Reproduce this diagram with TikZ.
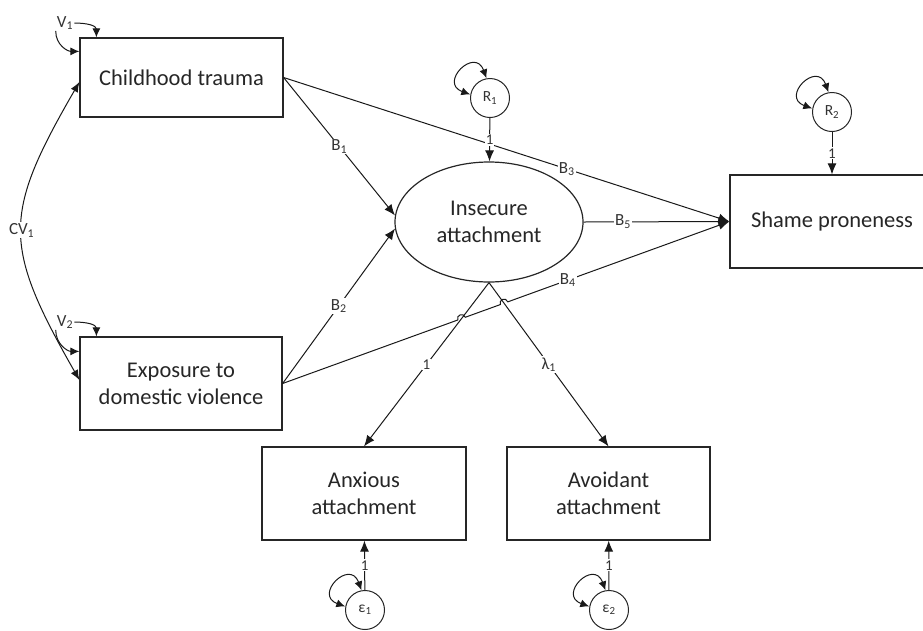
\documentclass[tikz,border=0pt]{standalone}
\usepackage{fontspec}
\setmainfont{Carlito}
\usetikzlibrary{arrows.meta,shapes.geometric,calc,intersections}

\tikzset{
  box/.style={draw=black!85, line width=1.2pt, align=center, text=black!85,
    font=\fontsize{22.5}{27}\selectfont, inner sep=0pt},
  latent/.style={ellipse, draw=black!85, line width=1.2pt, align=center, text=black!85,
    font=\fontsize{22.5}{27}\selectfont, minimum width=188pt, minimum height=120pt},
  resid/.style={circle, draw=black!85, line width=1pt, minimum size=39pt, inner sep=0pt,
    text=black!80, font=\fontsize{15.5}{15.5}\selectfont},
  effect/.style={draw=black!90, line width=1pt, -{Latex[length=11pt,width=9pt]}},
  covar/.style={draw=black!90, line width=1pt, {Latex[length=10pt,width=8pt]}-{Latex[length=10pt,width=8pt]}},
  selfvar/.style={draw=black!90, line width=1pt, {Latex[length=9pt,width=8pt]}-{Latex[length=9pt,width=8pt]}},
  varhalf/.style={draw=black!90, line width=1pt, -{Latex[length=9pt,width=8pt]}},
  coef/.style={fill=white, inner sep=1pt, text=black!80, font=\fontsize{17}{17}\selectfont},
  one/.style={coef, font=\fontsize{15}{15}\selectfont},
  varlab/.style={inner sep=1pt, text=black!80, font=\fontsize{17}{17}\selectfont}
}

\begin{document}
\begin{tikzpicture}[x=1pt,y=1pt]
    \clip (0,0) rectangle (923,-630);

    % Observed variables
    \node[box, minimum width=203pt, minimum height=79pt] (ct) at (181.5,-77.5) {Childhood trauma};
    \node[box, minimum width=202pt, minimum height=93pt] (ex) at (181,-383.5) {Exposure to\\domestic violence};
    \node[box, minimum width=204pt, minimum height=93pt] (sp) at (832,-221.5) {Shame proneness};
    \node[box, minimum width=204pt, minimum height=93pt] (ax) at (364,-493.5) {Anxious\\attachment};
    \node[box, minimum width=203pt, minimum height=93pt] (av) at (608.5,-493.5) {Avoidant\\attachment};

    % Latent variable
    \node[latent] (ins) at (489,-222) {Insecure\\attachment};

    % Residuals
    \node[resid] (r1) at (490,-98) {R\textsubscript{1}};
    \node[resid] (r2) at (832,-112) {R\textsubscript{2}};
    \node[resid] (e1) at (365,-610) {ε\textsubscript{1}};
    \node[resid] (e2) at (609,-610) {ε\textsubscript{2}};

    % Variances
    \node[varlab] (v1) at (65,-23) {V\textsubscript{1}};
    \node[varlab] (v2) at (65,-322) {V\textsubscript{2}};
    \draw[varhalf] (v1.south west) .. controls +(0,-14) and +(-12,0) .. ($(ct.north west)+(0,-14)$);
    \draw[varhalf] (v1.east) .. controls +(12,0) and +(0,12) .. ($(ct.north west)+(17,0)$);
    \draw[varhalf] (v2.south west) .. controls +(0,-14) and +(-12,0) .. ($(ex.north west)+(0,-15)$);
    \draw[varhalf] (v2.east) .. controls +(12,0) and +(0,12) .. ($(ex.north west)+(17,0)$);
    \draw[selfvar] (r1.100) .. controls +(110:34) and +(160:34) .. (r1.170);
    \draw[selfvar] (r2.100) .. controls +(110:34) and +(160:34) .. (r2.170);
    \draw[selfvar] (e1.100) .. controls +(110:34) and +(160:34) .. (e1.170);
    \draw[selfvar] (e2.100) .. controls +(110:34) and +(160:34) .. (e2.170);

    % Covariance
    \draw[covar] ($(ex.west)+(0,3.5)$) .. controls +(-77,135) and +(-77,-133) ..
        node[coef]{CV\textsubscript{1}} ($(ct.west)+(0,-4.5)$);

    % Structural paths
    \draw[effect] (ct.east) -- node[coef]{B\textsubscript{1}} (ins.176);
    \draw[effect] (ex.east) -- node[coef]{B\textsubscript{2}} (ins.184);
    \draw[effect] (ct.east) -- node[coef, pos=0.635]{B\textsubscript{3}} (sp.west);
    \draw[effect] (ins.east) -- node[coef, pos=0.27]{B\textsubscript{5}} (sp.west);

    % Measurement paths
    \draw[effect] (ins.south) -- node[one]{1} (ax.north);
    \draw[effect] (ins.south) -- node[coef]{λ\textsubscript{1}} (av.north);

    % B4 hops over the two loadings
    \path[name path=bfour] (ex.east) -- (sp.west);
    \path[name path=loadax] (ins.south) -- (ax.north);
    \path[name path=loadav] (ins.south) -- (av.north);
    \path[name intersections={of=bfour and loadax, by=hopa}];
    \path[name intersections={of=bfour and loadav, by=hopb}];
    \draw[effect] (ex.east) -- ($(hopa)!4pt!(ex.east)$)
        to[bend left=90, looseness=1.7] ($(hopa)!4pt!(sp.west)$) -- ($(hopb)!4pt!(ex.east)$)
        to[bend left=90, looseness=1.7] ($(hopb)!4pt!(sp.west)$)
        -- node[coef, pos=0.27]{B\textsubscript{4}} (sp.west);

    % Residual paths
    \draw[effect] (r1) -- node[one]{1} (ins);
    \draw[effect] (r2) -- node[one]{1} (sp);
    \draw[effect] (e1) -- node[one]{1} (ax);
    \draw[effect] (e2) -- node[one]{1} (av);
\end{tikzpicture}
\end{document}
